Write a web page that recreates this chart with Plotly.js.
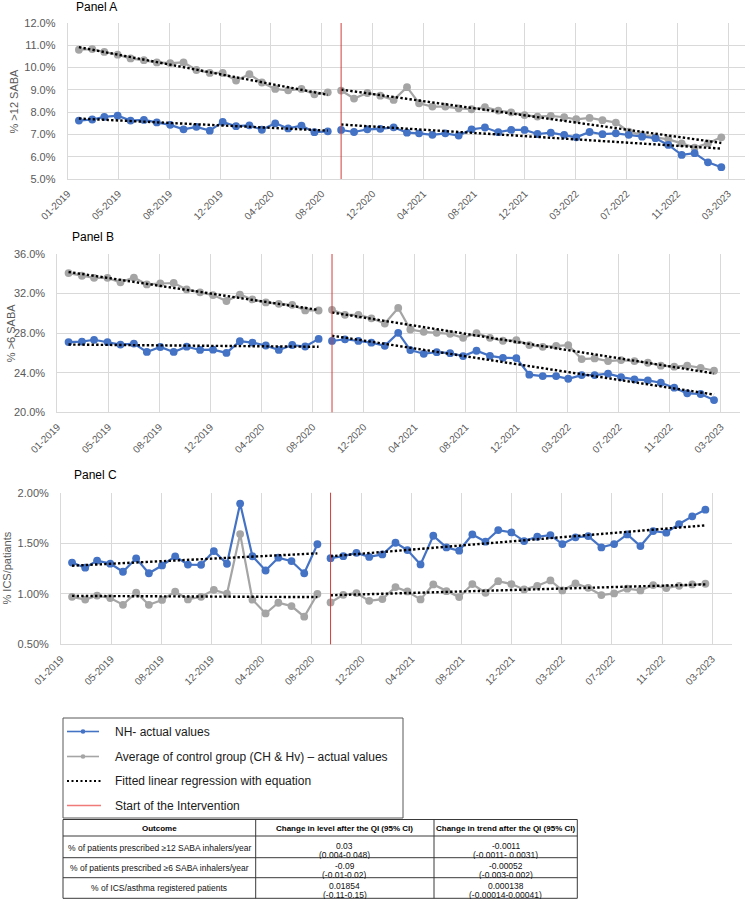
<!DOCTYPE html>
<html>
<head>
<meta charset="utf-8">
<script src="https://cdn.plot.ly/plotly-3.0.1.min.js"></script>
<style>
  html, body { margin: 0; padding: 0; background: #ffffff; }
  #chart { width: 750px; height: 901px; }
</style>
</head>
<body>
<div id="chart"></div>
<script>
// ---- Observation months (pre / post intervention) ----
const monthsPre = ['2019-01','2019-02','2019-03','2019-04','2019-05','2019-06','2019-07','2019-08','2019-09','2019-10',
                   '2019-11','2019-12','2020-01','2020-02','2020-03','2020-04','2020-05','2020-06','2020-07','2020-08'];
const monthsPost = ['2020-09','2020-10','2020-11','2020-12','2021-01','2021-02','2021-03','2021-04','2021-05','2021-06',
                    '2021-07','2021-08','2021-09','2021-10','2021-11','2021-12','2022-01','2022-02','2022-03','2022-04',
                    '2022-05','2022-06','2022-07','2022-08','2022-09','2022-10','2022-11','2022-12','2023-01','2023-02'];
const interventionStart = '2020-09';
const tickLabels = ['01-2019','05-2019','08-2019','12-2019','04-2020','08-2020','12-2020',
                    '04-2021','08-2021','12-2021','03-2022','07-2022','11-2022','03-2023'];

// ---- Panel A: % of patients with >12 SABA ----
const saba12NhPre = [7.62,7.67,7.79,7.84,7.62,7.65,7.54,7.43,7.23,7.34,7.17,7.56,7.37,7.41,7.21,7.50,7.27,7.39,7.10,7.14];
const saba12NhPost = [7.20,7.11,7.23,7.25,7.32,7.08,7.05,6.98,7.05,6.95,7.23,7.31,7.10,7.20,7.20,
                      7.02,7.08,6.98,6.87,7.11,7.01,7.05,6.98,6.90,6.83,6.53,6.08,6.16,5.75,5.53];
const saba12CtrlPre = [10.80,10.83,10.70,10.58,10.41,10.33,10.23,10.20,10.23,9.89,9.76,9.76,9.42,9.70,9.33,9.04,8.98,9.04,8.80,8.89];
const saba12CtrlPost = [8.97,8.61,8.86,8.74,8.55,9.12,8.40,8.25,8.25,8.17,8.13,8.22,8.07,7.99,7.87,
                        7.80,7.83,7.77,7.68,7.74,7.64,7.53,7.13,6.98,6.87,6.78,6.60,6.41,6.60,6.87];

// ---- Panel B: % of patients with >6 SABA ----
const saba6NhPre = [27.10,27.15,27.33,27.10,26.85,26.95,26.10,26.60,26.10,26.63,26.30,26.33,26.00,27.18,27.05,26.75,26.30,26.80,26.65,27.42];
const saba6NhPost = [27.21,27.38,27.21,27.04,26.72,28.03,26.29,25.92,26.08,25.98,25.68,26.22,25.71,25.51,25.48,
                     23.80,23.66,23.66,23.39,23.76,23.76,23.90,23.56,23.33,23.23,22.99,22.49,21.92,21.85,21.24];
const saba6CtrlPre = [34.07,33.80,33.59,33.59,33.14,33.62,32.92,33.02,33.07,32.42,32.13,31.85,31.25,31.90,31.41,31.11,30.96,30.86,30.30,30.29];
const saba6CtrlPost = [30.36,29.85,29.85,29.50,28.97,30.55,28.37,28.13,28.03,27.93,27.53,28.00,27.53,27.23,27.29,
                       26.79,26.62,26.72,26.79,25.38,25.45,25.18,25.28,25.18,25.01,24.71,24.61,24.71,24.50,24.20];

// ---- Panel C: % ICS / patients ----
const icsNhPre = [1.309,1.258,1.328,1.298,1.218,1.351,1.203,1.280,1.370,1.289,1.286,1.422,1.297,1.892,1.371,1.230,1.357,1.323,1.203,1.490];
const icsNhPost = [1.352,1.372,1.405,1.365,1.389,1.505,1.432,1.290,1.574,1.459,1.426,1.587,1.515,1.630,1.607,
                   1.521,1.564,1.581,1.492,1.558,1.571,1.459,1.492,1.587,1.472,1.620,1.604,1.690,1.766,1.832];
const icsCtrlPre = [0.970,0.943,0.982,0.958,0.891,1.012,0.891,0.939,1.022,0.944,0.970,1.039,1.000,1.591,0.942,0.805,0.911,0.878,0.773,0.998];
const icsCtrlPost = [0.914,0.990,1.007,0.930,0.947,1.066,1.023,0.944,1.092,1.026,0.967,1.096,1.010,1.125,1.096,
                     1.043,1.079,1.132,1.033,1.102,1.059,0.987,1.003,1.050,1.033,1.086,1.056,1.079,1.092,1.099];

// ---- Results table ----
const tableHeader = ['Outcome', 'Change in level after the QI (95% CI)', 'Change in trend after the QI (95% CI)'];
const outcomes = ['% of patients prescribed \u226512 SABA inhalers/year',
                  '% of patients prescribed \u22656 SABA inhalers/year',
                  '% of ICS/asthma registered patients'];
const levelEstimate = ['0.03', '-0.09', '0.01854'];
const levelCI = ['(0.004-0.048)', '(-0.01-0.02)', '(-0.11-0.15)'];
const trendEstimate = ['-0.0011', '-0.00052', '0.000138'];
const trendCI = ['(-0.0011- 0.0031)', '(-0.003-0.002)', '(-0.00014-0.00041)'];

// ---- Legend entries ----
const legendLabels = ['NH- actual values',
                      'Average of control group (CH & Hv) \u2013 actual values',
                      'Fitted linear regression with equation',
                      'Start of the Intervention'];

// ---------------------------------------------------------------
const W = 750, H = 901;
const FONT = 'Liberation Sans, Arial, Helvetica, sans-serif';
const BLUE = '#4472C4', GRAY = '#A5A5A5', RED = '#D23F3A', GRID = '#D9D9D9', TICK = '#595959';
const px = x => x / W;
const py = y => 1 - y / H;

// date helpers for the axis ticks (one major unit = 118 days)
const DAY = 86400000;
const tick0 = Date.UTC(2018, 11, 6);
const iso = ms => new Date(ms).toISOString().slice(0, 10);
const tickVals = tickLabels.map((_, k) => iso(tick0 + k * 118 * DAY));

// least-squares line over one segment, returned at its two ends
function fitEnds(values) {
  const n = values.length;
  let sx = 0, sy = 0, sxx = 0, sxy = 0;
  values.forEach((v, i) => { sx += i; sy += v; sxx += i * i; sxy += i * v; });
  const b = (n * sxy - sx * sy) / (n * sxx - sx * sx);
  const a = (sy - b * sx) / n;
  return [a, a + b * (n - 1)];
}

// panel geometry in page pixels
const panels = [
  { key: '',  left: 67.7, right: 745,   top: 23,    bottom: 179,   rangeDays: 1573, yr: [5, 12],   dtick: 1,   fmt: '.1f',
    nhPre: saba12NhPre, nhPost: saba12NhPost, ctPre: saba12CtrlPre, ctPost: saba12CtrlPost,
    title: 'Panel A', titleX: 74, titleY: 7.5, yTitle: '% >12 SABA', yTitleX: 13.5 },
  { key: '2', left: 57.3, right: 740,   top: 254,   bottom: 412.3, rangeDays: 1578, yr: [20, 36],  dtick: 4,   fmt: '.1f',
    nhPre: saba6NhPre, nhPost: saba6NhPost, ctPre: saba6CtrlPre, ctPost: saba6CtrlPost,
    title: 'Panel B', titleX: 70, titleY: 237, yTitle: '% >6 SABA', yTitleX: 11 },
  { key: '3', left: 61,   right: 731.7, top: 492.7, bottom: 644.3, rangeDays: 1580, yr: [0.5, 2], dtick: 0.5, fmt: '.2f',
    nhPre: icsNhPre, nhPost: icsNhPost, ctPre: icsCtrlPre, ctPost: icsCtrlPost,
    title: 'Panel C', titleX: 71.5, titleY: 475, yTitle: '% ICS/patiants', yTitleX: 6 }
];

const traces = [];
const layout = {
  width: W, height: H,
  margin: { l: 0, r: 0, t: 0, b: 0, pad: 0 },
  paper_bgcolor: '#ffffff', plot_bgcolor: '#ffffff',
  showlegend: false,
  font: { family: FONT, color: TICK },
  shapes: [], annotations: []
};

panels.forEach(p => {
  const xa = 'x' + p.key, ya = 'y' + p.key;
  const seriesLine = (x, y, color) => ({
    type: 'scatter', mode: 'lines+markers', x, y, xaxis: xa, yaxis: ya,
    line: { color, width: 2.2 }, marker: { color, size: 7.8 }, hoverinfo: 'skip'
  });
  const fitLine = (x, y) => {
    const ends = fitEnds(y);
    return { type: 'scatter', mode: 'lines', x: [x[0], x[x.length - 1]], y: ends, xaxis: xa, yaxis: ya,
             line: { color: '#000000', width: 2.4, dash: '2.4px,2.2px' }, hoverinfo: 'skip' };
  };
  traces.push(seriesLine(monthsPre, p.ctPre, GRAY), seriesLine(monthsPost, p.ctPost, GRAY));
  traces.push(seriesLine(monthsPre, p.nhPre, BLUE), seriesLine(monthsPost, p.nhPost, BLUE));
  traces.push(fitLine(monthsPre, p.ctPre), fitLine(monthsPost, p.ctPost));
  traces.push(fitLine(monthsPre, p.nhPre), fitLine(monthsPost, p.nhPost));

  layout['xaxis' + p.key] = {
    type: 'date', anchor: ya, domain: [px(p.left), px(p.right)],
    range: [iso(tick0), iso(tick0 + p.rangeDays * DAY)],
    tickmode: 'array', tickvals: tickVals, ticktext: tickLabels, tickangle: -45,
    tickfont: { family: FONT, size: 10, color: TICK }, ticks: '', ticklabelstandoff: 4,
    showgrid: true, gridcolor: GRID, gridwidth: 1,
    showline: true, linecolor: GRID, linewidth: 1, zeroline: false, fixedrange: true
  };
  layout['yaxis' + p.key] = {
    anchor: xa, domain: [py(p.bottom), py(p.top)], range: p.yr, dtick: p.dtick, tick0: p.yr[0],
    tickformat: p.fmt, ticksuffix: '%', tickfont: { family: FONT, size: 11, color: TICK },
    ticks: '', ticklabelstandoff: 9, showgrid: true, gridcolor: GRID, gridwidth: 1,
    showline: true, linecolor: GRID, linewidth: 1, zeroline: false, fixedrange: true
  };
  // start of the intervention
  layout.shapes.push({ type: 'line', xref: xa, yref: ya + ' domain', x0: interventionStart, x1: interventionStart,
                       y0: 0, y1: 1, line: { color: RED, width: 1 } });
  layout.annotations.push({ xref: 'paper', yref: 'paper', x: px(p.titleX), y: py(p.titleY), xanchor: 'left', yanchor: 'middle',
                            text: p.title, showarrow: false, font: { family: FONT, size: 12, color: '#000000' } });
  layout.annotations.push({ xref: 'paper', yref: 'paper', x: px(p.yTitleX), y: py((p.top + p.bottom) / 2),
                            xanchor: 'center', yanchor: 'middle', textangle: -90, text: p.yTitle, showarrow: false,
                            font: { family: FONT, size: 11, color: TICK } });
});

// ---- Legend box ----
const LG = { left: 63, right: 403, top: 718, bottom: 818, rows: [731.5, 756.5, 781, 805.5], s0: 67, s1: 99, text: 112.5 };
layout.shapes.push({ type: 'rect', xref: 'paper', yref: 'paper', x0: px(LG.left), x1: px(LG.right), y0: py(LG.bottom), y1: py(LG.top),
                     line: { color: '#595959', width: 1 }, fillcolor: 'rgba(0,0,0,0)' });
const sampleStyles = [
  { color: BLUE, width: 1.6, dash: 'solid', marker: true },
  { color: GRAY, width: 1.6, dash: 'solid', marker: true },
  { color: '#000000', width: 2, dash: '2px,2.5px', marker: false },
  { color: '#F07A78', width: 1.4, dash: 'solid', marker: false }
];
legendLabels.forEach((label, i) => {
  const y = LG.rows[i], st = sampleStyles[i];
  const x1 = i >= 2 ? LG.s1 + 2 : LG.s1;
  layout.shapes.push({ type: 'line', xref: 'paper', yref: 'paper', x0: px(LG.s0), x1: px(x1), y0: py(y), y1: py(y),
                       line: { color: st.color, width: st.width, dash: st.dash } });
  if (st.marker) {
    const cx = (LG.s0 + LG.s1) / 2, r = 2.3;
    layout.shapes.push({ type: 'circle', xref: 'paper', yref: 'paper', x0: px(cx - r), x1: px(cx + r), y0: py(y + r), y1: py(y - r),
                         fillcolor: st.color, line: { color: st.color, width: 0 } });
  }
  layout.annotations.push({ xref: 'paper', yref: 'paper', x: px(LG.text), y: py(y), xanchor: 'left', yanchor: 'middle',
                            text: label, showarrow: false, font: { family: FONT, size: 12, color: '#1a1a1a' } });
});

// ---- Results table: grid lines and cell texts ----
const TB = {
  cols: [63, 255.7, 434, 577.3],
  rows: [819.5, 836, 857.7, 877.7, 898.3],
  headerY: 828.5,
  singleY: [848, 868, 888],
  firstLineY: [845.2, 865.4, 885.4],
  secondLineY: [854.2, 874.4, 894.4]
};
const tableLine = { color: '#3a3a3a', width: 1 };
TB.rows.forEach(y => layout.shapes.push({ type: 'line', xref: 'paper', yref: 'paper',
  x0: px(TB.cols[0]), x1: px(TB.cols[3]), y0: py(y), y1: py(y), line: tableLine }));
TB.cols.forEach(x => layout.shapes.push({ type: 'line', xref: 'paper', yref: 'paper',
  x0: px(x), x1: px(x), y0: py(TB.rows[0]), y1: py(TB.rows[4]), line: tableLine }));
const colCenter = c => (TB.cols[c] + TB.cols[c + 1]) / 2;
// two-line cells sit tightly, so each line gets its own fixed-height box
const cellText = (text, c, y, opts = {}) => layout.annotations.push(Object.assign({
  xref: 'paper', yref: 'paper', x: px(colCenter(c)), y: py(y), xanchor: 'center', yanchor: 'middle',
  text: text, showarrow: false, font: { family: FONT, size: 8.5, color: '#111111' }
}, opts));
tableHeader.forEach((h, c) => cellText('<b>' + h + '</b>', c, TB.headerY,
  { font: { family: FONT, size: 8, color: '#000000' } }));
outcomes.forEach((o, r) => {
  cellText(o, 0, TB.singleY[r]);
  cellText(levelEstimate[r], 1, TB.firstLineY[r], { height: 9 });
  cellText(levelCI[r], 1, TB.secondLineY[r], { height: 9 });
  cellText(trendEstimate[r], 2, TB.firstLineY[r], { height: 9 });
  cellText(trendCI[r], 2, TB.secondLineY[r], { height: 9 });
});

Plotly.newPlot('chart', traces, layout, { displayModeBar: false, staticPlot: true });
</script>
</body>
</html>
